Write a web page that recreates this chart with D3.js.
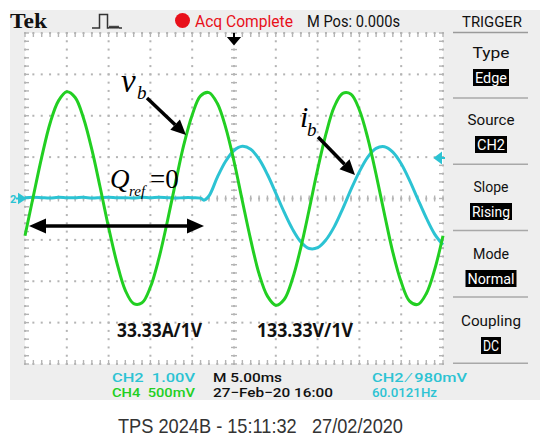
<!DOCTYPE html>
<html>
<head>
<meta charset="utf-8">
<script src="https://cdn.jsdelivr.net/npm/d3@7"></script>
<style>
  body { margin: 0; background: #fff; }
  svg { display: block; }
  text { white-space: pre; }
</style>
</head>
<body>
<script>
// time base in ms (5 ms/div, trigger at centre), values in volts
const greenTime = [-25,-24,-23,-22,-21,-20,-19,-18,-17,-16,-15,-14,-13,-12,-11,-10,-9,-8,-7,-6,-5,-4,-3,-2,-1,0,
                   1,2,3,4,5,6,7,8,9,10,11,12,13,14,15,16,17,18,19,20,21,22,23,24,25];
const greenVolts = [-0.45,0.03,0.50,0.91,1.18,1.29,1.22,0.97,0.59,0.13,-0.35,-0.78,-1.11,-1.27,-1.26,-1.07,-0.73,-0.29,0.19,0.65,1.01,1.24,1.28,1.15,0.86,0.45,
                    -0.03,-0.50,-0.91,-1.18,-1.29,-1.22,-0.97,-0.59,-0.13,0.35,0.78,1.11,1.27,1.26,1.07,0.73,0.29,-0.19,-0.65,-1.01,-1.24,-1.28,-1.15,-0.86,-0.45];

const cyanTime = [-25,-24,-23,-22,-21,-20,-19,-18,-17,-16,-15,-14,-13,-12,-11,-10,-9,-8,-7,-6,-5,-4,-3.6,-3,-2,-1,0,
                  1,2,3,4,5,6,7,8,9,10,11,12,13,14,15,16,17,18,19,20,21,22,23,24,25];
const cyanVolts = [0.02,0.03,0.02,0.01,0.03,0.02,0.02,0.03,0.01,0.02,0.03,0.02,0.02,0.01,0.03,0.02,0.03,0.02,0.01,0.02,0.02,0.01,-0.04,0.06,0.51,0.90,1.16,
                   1.26,1.19,0.95,0.58,0.13,-0.33,-0.74,-1.05,-1.21,-1.19,-1.00,-0.68,-0.25,0.22,0.65,1.00,1.21,1.25,1.12,0.84,0.44,-0.02,-0.47,-0.86,-1.12];

const voltsPerDiv = { ch2: 1.0, ch4: 0.5 };

const triggerLabels = ["Type", "Source", "Slope", "Mode", "Coupling"];
const triggerValues = ["Edge", "CH2", "Rising", "Normal", "DC"];

const statusLeft = ["CH2  1.00V", "CH4  500mV"];
const statusMid = ["M 5.00ms", "27\u2212Feb\u221220 16:00"];
const statusRight = ["CH2 \u2215 980mV", "60.0121Hz"];
const footer = "TPS 2024B - 15:11:32   27/02/2020";

const W = 550, H = 448;
const GREEN = "#22cf22", CYAN = "#2cc3d3", GRID = "#b4b4b4";
const UI = "Roboto, 'Liberation Sans', sans-serif";

const svg = d3.select("body").append("svg")
  .attr("width", W).attr("height", H);

// scope screen
svg.append("rect").attr("x", 10).attr("y", 10).attr("width", 530).attr("height", 390)
  .attr("fill", "#eeeeee");

const x = d3.scaleLinear().domain([-25, 25]).range([25, 443]);
const y = d3.scaleLinear().domain([-4, 4]).range([364, 33]);

svg.append("rect")
  .attr("x", x(-25)).attr("y", y(4))
  .attr("width", x(25) - x(-25)).attr("height", y(-4) - y(4))
  .attr("fill", "#fff");

// graticule
const g = svg.append("g").attr("fill", GRID);
const majorT = d3.range(-25, 26, 5), minorT = d3.range(-25, 25.01, 1);
const majorV = d3.range(-4, 4.01, 1), minorV = d3.range(-4, 4.01, 0.2);

majorT.forEach(t => {
  minorV.forEach(v => {
    g.append("rect").attr("x", x(t) - 1).attr("y", y(v) - 1)
      .attr("width", 2).attr("height", 2);
  });
});
majorV.forEach(v => {
  minorT.forEach(t => {
    g.append("rect").attr("x", x(t) - 1).attr("y", y(v) - 1)
      .attr("width", 2).attr("height", 2);
  });
});

const ticks = svg.append("g").attr("stroke", GRID).attr("stroke-width", 1.4);
minorV.forEach(v => {
  ticks.append("line").attr("x1", x(0) - 3).attr("x2", x(0) + 3).attr("y1", y(v)).attr("y2", y(v));
  ticks.append("line").attr("x1", x(-25)).attr("x2", x(-25) + 4).attr("y1", y(v)).attr("y2", y(v));
  ticks.append("line").attr("x1", x(25) - 4).attr("x2", x(25)).attr("y1", y(v)).attr("y2", y(v));
});
minorT.forEach(t => {
  ticks.append("line").attr("x1", x(t)).attr("x2", x(t)).attr("y1", y(0) - 3).attr("y2", y(0) + 3);
  ticks.append("line").attr("x1", x(t)).attr("x2", x(t)).attr("y1", y(4)).attr("y2", y(4) + 4);
  ticks.append("line").attr("x1", x(t)).attr("x2", x(t)).attr("y1", y(-4) - 4).attr("y2", y(-4));
});

// traces
const line = d3.line()
  .x(d => x(d[0]))
  .y(d => y(d[1]))
  .curve(d3.curveCatmullRom.alpha(0.5));

const greenPts = greenTime.map((t, i) => [t, greenVolts[i] / voltsPerDiv.ch4]);
const cyanPts = cyanTime.map((t, i) => [t, cyanVolts[i] / voltsPerDiv.ch2]);

svg.append("path").attr("d", line(cyanPts))
  .attr("fill", "none").attr("stroke", CYAN).attr("stroke-width", 3)
  .attr("stroke-linejoin", "round");
svg.append("path").attr("d", line(greenPts))
  .attr("fill", "none").attr("stroke", GREEN).attr("stroke-width", 3)
  .attr("stroke-linejoin", "round");

// markers
svg.append("text").attr("x", 10).attr("y", y(0) + 4.5)
  .attr("font-family", UI).attr("font-weight", "bold").attr("font-size", 11)
  .attr("fill", CYAN).text("2");
svg.append("path")
  .attr("d", `M16,${y(0)}H21M19,${y(0) - 4}L25,${y(0)}L19,${y(0) + 4}Z`)
  .attr("stroke", CYAN).attr("stroke-width", 2).attr("fill", CYAN);
const trigY = y(0.98 / voltsPerDiv.ch2);
svg.append("path")
  .attr("d", `M435,${trigY}L441,${trigY - 4.5}L441,${trigY + 4.5}Z M440,${trigY}H445`)
  .attr("stroke", CYAN).attr("stroke-width", 2).attr("fill", CYAN);
svg.append("path")
  .attr("d", `M${x(0)},33V39M${x(0) - 5},38L${x(0) + 5},38L${x(0)},44Z`)
  .attr("stroke", "#000").attr("stroke-width", 2).attr("fill", "#000");

// top bar
svg.append("text").attr("x", 10).attr("y", 28)
  .attr("font-family", "'Liberation Serif', serif").attr("font-weight", "bold")
  .attr("font-size", 21).attr("textLength", 37).attr("lengthAdjust", "spacingAndGlyphs")
  .attr("fill", "#111").text("Tek");
svg.append("path")
  .attr("d", "M92,28H99.5V14.5H107.5V28H109L110,26.5L111,28L112,26.5L113,28L114,26.5L115,28L116,26.5L117,28L118,26.5L119,28H122")
  .attr("fill", "none").attr("stroke", "#333").attr("stroke-width", 1.5);
svg.append("circle").attr("cx", 182.5).attr("cy", 20.5).attr("r", 7.5).attr("fill", "#e8101a");

function uiText(str, x0, base, w, size, color, anchor) {
  return svg.append("text").attr("x", x0).attr("y", base)
    .attr("font-family", UI).attr("font-size", size)
    .attr("text-anchor", anchor || "start")
    .attr("textLength", w).attr("lengthAdjust", "spacingAndGlyphs")
    .attr("fill", color).text(str);
}
uiText("Acq Complete", 195, 27, 98, 16, "#e8101a");
uiText("M Pos: 0.000s", 307, 27, 93, 16, "#111");
uiText("TRIGGER", 462, 27, 60, 15, "#111");

// trigger menu
const panel = svg.append("g");
const labelW = [37, 47, 35, 36, 60];
const boxW = [36, 32, 42, 51, 20];
panel.append("line").attr("x1", 453).attr("x2", 528).attr("y1", 32.5).attr("y2", 32.5)
  .attr("stroke", "#9a9a9a").attr("stroke-width", 1.5);
triggerLabels.forEach((lab, i) => {
  const base = 58 + 67 * i;
  uiText(lab, 491, base, labelW[i], 15, "#111", "middle");
  panel.append("rect").attr("x", 491 - boxW[i] / 2).attr("y", base + 11)
    .attr("width", boxW[i]).attr("height", 17).attr("fill", "#000");
  uiText(triggerValues[i], 491, base + 24.5, boxW[i] - 4, 14, "#fff", "middle");
  panel.append("line").attr("x1", 453).attr("x2", 528)
    .attr("y1", 98 + 66.3 * i).attr("y2", 98 + 66.3 * i)
    .attr("stroke", "#a8a8a8").attr("stroke-width", 1.5);
});

// status lines
uiText(statusLeft[0], 112, 382, 83, 13, CYAN).attr("font-weight", 500);
uiText(statusLeft[1], 112, 396.5, 83, 13, GREEN).attr("font-weight", 500);
uiText(statusMid[0], 213, 382, 69, 13, "#111").attr("font-weight", 500);
uiText(statusMid[1], 213, 396.5, 120, 13, "#111").attr("font-weight", 500);
uiText(statusRight[0], 372, 382, 95, 13, CYAN).attr("font-weight", 500);
uiText(statusRight[1], 372, 396.5, 65, 13, CYAN).attr("font-weight", 500);

svg.append("text").attr("x", 118).attr("y", 433)
  .attr("font-family", "'Liberation Sans', Arial, sans-serif").attr("font-size", 21)
  .attr("textLength", 285).attr("lengthAdjust", "spacingAndGlyphs")
  .attr("fill", "#333").text(footer);

// annotations
const serif = "'Liberation Serif', 'Times New Roman', serif";
function arrowHead(x1, y1, x2, y2, len, half) {
  const a = Math.atan2(y2 - y1, x2 - x1);
  const bx = x2 - len * Math.cos(a), by = y2 - len * Math.sin(a);
  const px = -Math.sin(a) * half, py = Math.cos(a) * half;
  return { base: [bx, by], d: `M${x2},${y2}L${bx + px},${by + py}L${bx - px},${by - py}Z` };
}
function arrow(x1, y1, x2, y2) {
  const h = arrowHead(x1, y1, x2, y2, 15, 7);
  svg.append("line").attr("x1", x1).attr("y1", y1).attr("x2", h.base[0]).attr("y2", h.base[1])
    .attr("stroke", "#000").attr("stroke-width", 3.5);
  svg.append("path").attr("d", h.d).attr("fill", "#000");
}
arrow(147, 98, 186, 135);
arrow(318, 137, 355, 175);

// double arrow for the Q_ref = 0 interval
const hL = arrowHead(204, 226, 29, 226, 17, 7.5);
const hR = arrowHead(29, 226, 204, 226, 17, 7.5);
svg.append("line").attr("x1", hL.base[0]).attr("x2", hR.base[0]).attr("y1", 226).attr("y2", 226)
  .attr("stroke", "#000").attr("stroke-width", 3.5);
svg.append("path").attr("d", hL.d).attr("fill", "#000");
svg.append("path").attr("d", hR.d).attr("fill", "#000");

const vb = svg.append("text").attr("font-family", serif).attr("font-style", "italic").attr("fill", "#000");
vb.append("tspan").attr("x", 121).attr("y", 92).attr("font-size", 33).text("v");
vb.append("tspan").attr("x", 137).attr("y", 99).attr("font-size", 19).text("b");

const ib = svg.append("text").attr("font-family", serif).attr("font-style", "italic").attr("fill", "#000");
ib.append("tspan").attr("x", 300).attr("y", 127).attr("font-size", 30).text("i");
ib.append("tspan").attr("x", 307).attr("y", 136).attr("font-size", 19).text("b");

const q = svg.append("text").attr("font-family", serif).attr("fill", "#000");
q.append("tspan").attr("x", 110).attr("y", 188).attr("font-size", 27).attr("font-style", "italic").text("Q");
q.append("tspan").attr("x", 129).attr("y", 196).attr("font-size", 15).attr("font-style", "italic").text("ref");
q.append("tspan").attr("x", 150).attr("y", 188).attr("font-size", 27).text("=0");

svg.append("text").attr("x", 117).attr("y", 337)
  .attr("font-family", "'Open Sans', 'Liberation Sans', sans-serif").attr("font-weight", "bold")
  .attr("font-size", 19).attr("textLength", 85).attr("lengthAdjust", "spacingAndGlyphs")
  .attr("fill", "#111").text("33.33A/1V");
svg.append("text").attr("x", 257).attr("y", 337)
  .attr("font-family", "'Open Sans', 'Liberation Sans', sans-serif").attr("font-weight", "bold")
  .attr("font-size", 19).attr("textLength", 96).attr("lengthAdjust", "spacingAndGlyphs")
  .attr("fill", "#111").text("133.33V/1V");
</script>
</body>
</html>
